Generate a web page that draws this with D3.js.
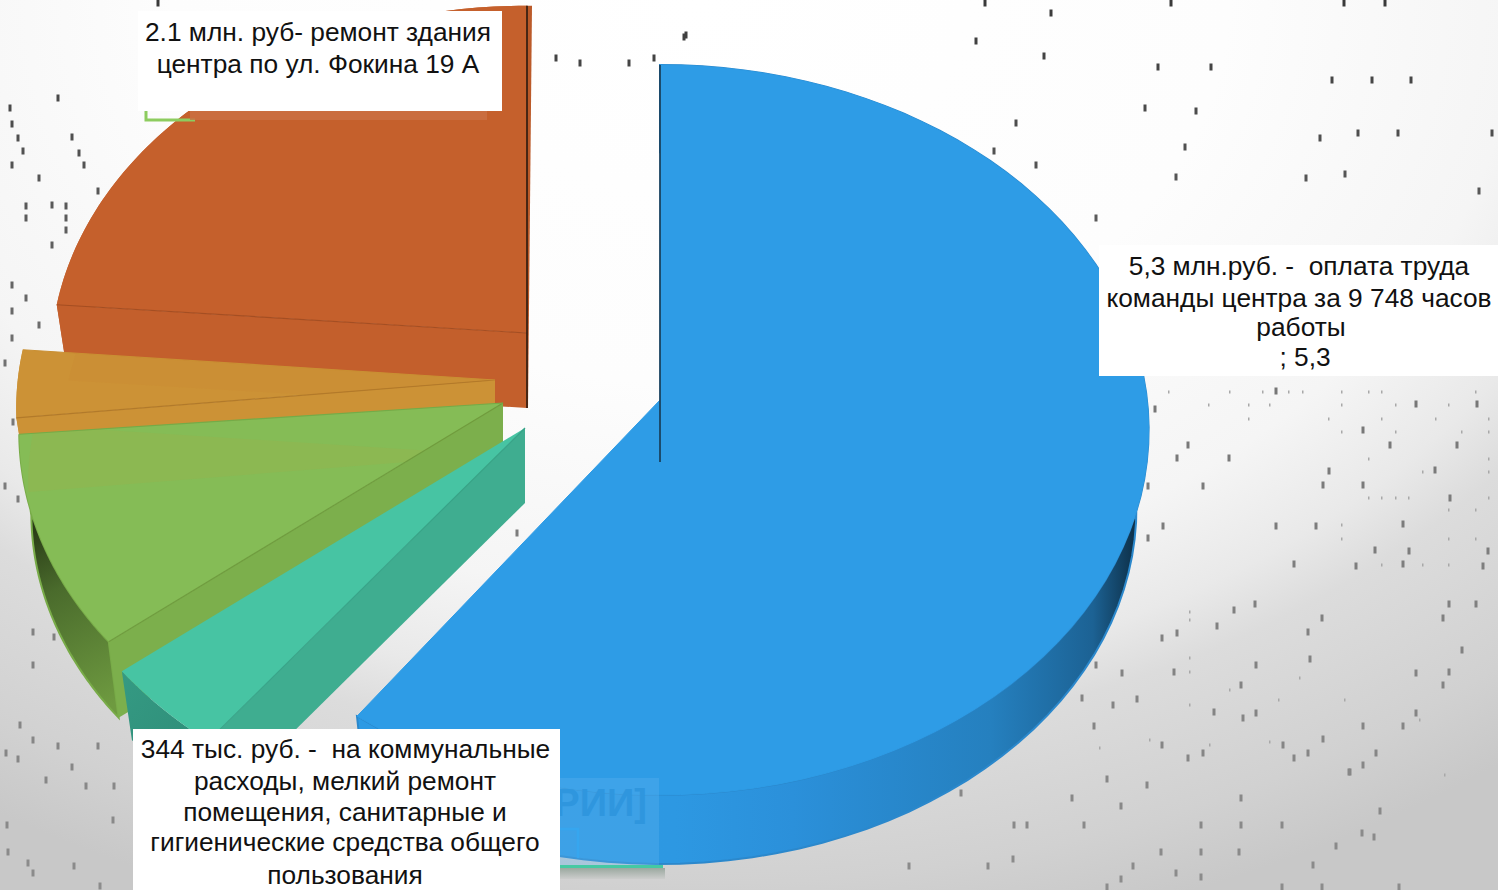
<!DOCTYPE html>
<html>
<head>
<meta charset="utf-8">
<style>
html, body { margin: 0; padding: 0; background: #fff; overflow: hidden; }
text { font-family: "Liberation Sans", Arial, sans-serif; white-space: pre; }
</style>
<script src="https://cdn.jsdelivr.net/npm/d3@7"></script>
</head>
<body>
<svg id="chart" width="1498" height="890"></svg>
<script>
// clockwise from 12 o'clock
const categories = ["Оплата труда", "Коммунальные расходы", "Прочее 1", "Прочее 2", "Ремонт здания"];
const values = [5.3, 0.344, 0.84, 0.27, 2.1];

const topColors = ["#2e9ce6", "#47c4a3", "#85bc56", "#cc9236", "#c5602c"];
const cutColors = ["#1d6ea8", "#3fad90", "#7caf4c", "#cc9236", "#c35f2c"];
const edgeColors = ["#1b6ca5", "#38a388", "#6f9c3e", "#b27a2a", "#a54e22"];
// apex of each pulled-out slice, its radius against the big one, small turn in degrees
const apexX = [660, 525, 503, 495, 527];
const apexY = [400, 428, 403, 380, 333];
const radii = [1, 1.01, 0.99, 0.98, 0.975];
const turns = [0, 1.5, 1.4, 0.3, 0];
const depths = [79, 75, 82, 75, 75];
// slices are painted back to front
const drawOrder = [4, 3, 2, 1, 0];

const labelBlocks = [
  { box: [138, 11, 364, 100], cx: [318, 318], lines: ["2.1 млн. руб- ремонт здания", "центра по ул. Фокина 19 А"], ys: [41, 73] },
  { box: [1099, 245, 399, 131], cx: [1299, 1299, 1301, 1305], lines: ["5,3 млн.руб. -  оплата труда", "команды центра за 9 748 часов", "работы", "; 5,3"], ys: [275, 307, 336, 366] },
  { box: [133, 729, 427, 161], cx: [345.5, 345, 345, 345, 345], lines: ["344 тыс. руб. -  на коммунальные", "расходы, мелкий ремонт", "помещения, санитарные и", "гигиенические средства общего", "пользования"], ys: [758, 790, 821, 851, 884] }
];

const specks = [
  [1276,391],[1416,404],[1477,404],[1155,409],[1188,445],[1363,430],[1390,445],[1457,445],[1177,458],[1229,458],
  [1329,471],[1435,470],[1323,485],[1363,485],[1148,486],[1203,486],[1450,498],[1403,524],[1163,526],[1276,526],
  [1316,526],[1148,538],[1375,550],[1409,551],[1488,551],[1294,564],[1403,564],[1483,566],[1356,566],[1255,604],
  [1449,604],[1476,604],[1322,618],[1443,618],[1234,610],[1308,632],[1177,633],[1162,638],[1217,626],[1462,650],
  [1310,659],[1256,665],[1122,673],[1174,672],[1096,665],[1416,673],[1449,672],[1241,685],[1443,685],[1082,698],
  [1113,705],[1137,699],[1214,712],[1256,713],[1416,713],[1243,718],[1094,726],[1363,726],[1403,726],[1162,745],
  [1283,745],[1323,739],[1308,753],[1376,753],[1203,753],[1188,758],[1294,758],[1363,765],[1349,772],
  [985,3],[1051,13],[1171,3],[1344,3],[1385,3],[976,41],[1044,56],[1158,67],[1211,67],[1332,80],[1372,80],[1411,80],
  [1145,108],[1196,111],[1016,123],[1358,133],[1398,133],[1492,133],[1185,147],[994,151],[1320,138],[1036,165],
  [1176,177],[1345,174],[1479,191],[1096,218],[686,35],[1306,178],
  [1107,779],[1147,785],[961,793],[1072,798],[1241,798],[1121,806],[1282,825],[1241,825],[1201,825],[1027,825],
  [1014,825],[1084,825],[1161,852],[1201,852],[1239,852],[1013,859],[909,866],[988,866],[1133,866],[1313,865],
  [1201,877],[1121,879],[1176,873],[1336,846],[1362,833],[1374,837],[1380,811],[1350,772],[1107,887],[1282,887],
  [1322,887],[1399,887],
  [10,108],[58,98],[72,137],[18,138],[39,178],[98,191],[26,206],[26,218],[66,218],[66,230],[66,206],[52,205],
  [52,245],[26,298],[12,124],[12,165],[23,151],[39,325],[12,338],[12,285],[12,311],[79,153],[84,165],
  [20,725],[18,759],[6,753],[58,746],[98,746],[33,740],[72,767],[46,780],[114,786],[86,786],[7,825],[8,852],
  [74,866],[33,873],[100,886],[113,820],[28,863],
  [5,363],[13,422],[5,486],[18,499],[33,632],[54,637],[33,665],[517,533],
  [556,58],[580,63],[629,63],[654,58],[684,37],[158,3]
];
// the much fainter grains
const grains = [
  [1169,392],[1230,392],[1263,392],[1289,392],[1303,392],[1342,392],[1369,392],[1382,392],[1476,392],[1209,405],
  [1249,405],[1270,405],[1342,405],[1396,405],[1449,405],[1249,419],[1329,419],[1382,419],[1436,419],[1489,419],
  [1342,432],[1396,432],[1462,432],[1489,432],[1489,459],[1369,459],[1489,472],[1423,472],[1382,498],[1369,498],
  [1396,498],[1409,498],[1489,498],[1342,525],[1449,510],[1476,510],[1342,539],[1449,539],[1476,539],[1382,565],
  [1423,565],[1449,565],[1190,612],[1190,620],[1190,658],[1190,672],[1300,678],[1150,740],[1210,745],[1270,742],
  [1100,748],[1445,775],[1420,720],[1345,700],[1279,700],[1190,705],[1230,690]
];

const svg = d3.select("#chart");
const defs = svg.append("defs");

function linearGradient(id, coords, stops) {
  const g = defs.append("linearGradient").attr("id", id).attr("gradientUnits", "userSpaceOnUse")
    .attr("x1", coords[0]).attr("y1", coords[1]).attr("x2", coords[2]).attr("y2", coords[3]);
  stops.forEach(s => g.append("stop").attr("offset", s[0]).attr("stop-color", s[1]));
}
const bgGrad = defs.append("radialGradient").attr("id", "bg").attr("gradientUnits", "userSpaceOnUse")
  .attr("cx", 0).attr("cy", 0).attr("r", 1.2).attr("gradientTransform", "translate(700,0) scale(1100,800)");
[[0, "#ffffff"], [0.4, "#fdfdfd"], [0.62, "#f5f5f5"], [0.72, "#e9e9e9"], [0.78, "#dcdcdc"], [0.92, "#d1d1d1"], [1, "#c8c8c8"]]
  .forEach(s => bgGrad.append("stop").attr("offset", s[0]).attr("stop-color", s[1]));
linearGradient("blueSide", [360, 0, 1148, 0], [[0, "#2d9ae4"], [0.4, "#2d98e2"], [0.55, "#2b90da"], [0.8, "#2580bf"], [0.93, "#1c6294"], [0.985, "#0d2f47"], [1, "#0c2a40"]]);
linearGradient("greenSide", [25, 510, 120, 700], [[0, "#1f2d10"], [0.4, "#4a6b2c"], [1, "#6e9a40"]]);
linearGradient("tealSide", [122, 670, 200, 740], [[0, "#359a83"], [1, "#2f8f7a"]]);
linearGradient("shadow", [0, 868, 0, 880], [[0, "#9aa89f"], [1, "#d0d0d0"]]);

svg.append("rect").attr("width", 1498).attr("height", 890).attr("fill", "url(#bg)");

const speckTone = d3.scaleLinear().domain([0, 400, 890]).range(["#3a3a3a", "#777777", "#8c8c8c"]);
svg.append("g").selectAll("rect").data(grains).join("rect")
  .attr("x", d => d[0] - 1).attr("y", d => d[1] - 1.5)
  .attr("width", 1.5).attr("height", 3)
  .attr("fill", "#a8a8a8");
svg.append("g").selectAll("rect").data(specks).join("rect")
  .attr("x", d => d[0] - 1.5).attr("y", d => d[1] - 3.5)
  .attr("width", 3).attr("height", 7)
  .attr("fill", d => speckTone(d[1]));

const pieData = d3.pie().sort(null).startAngle(0).endAngle(2 * Math.PI)(values);

// perspective view of the tilted disc
const rx = d3.scaleLinear().domain([0, 1]).range([0, 487]);
const ry = d3.scaleLinear().domain([0, 1]).range([0, 362.5]);
const persp = 0.082;
const shrink = 0.975;
const turnOf = i => turns[i] * Math.PI / 180;

function project(i, r, a, low) {
  const rr = r * radii[i];
  const w = 1 + persp * rr * Math.cos(a);
  const dx = rx(rr) * Math.sin(a) / w;
  const dy = -ry(rr) * Math.cos(a) / w;
  const b = low ? shrink : 1;
  return [apexX[i] + dx * b, apexY[i] + dy * b + (low ? depths[i] : 0)];
}
function arcPoints(i, a0, a1, low) {
  return d3.range(0, 81).map(k => project(i, 1, a0 + (a1 - a0) * k / 80, low));
}
const line = d3.line();
const closed = pts => line(pts) + "Z";
const topShape = i => {
  const s = pieData[i], t = turnOf(i);
  return closed([project(i, 0, 0, false)].concat(arcPoints(i, s.startAngle + t, s.endAngle + t, false)));
};
const lowShape = i => {
  const s = pieData[i], t = turnOf(i);
  return closed(arcPoints(i, s.startAngle + t, s.endAngle + t, false).concat(arcPoints(i, s.endAngle + t, s.startAngle + t, true)));
};

const sliceG = svg.append("g");
drawOrder.forEach(i => {
  const s = pieData[i];
  const g = sliceG.append("g").attr("class", "slice").datum(s);
  const a = s.startAngle + turnOf(i), b = s.endAngle + turnOf(i);
  const apexTop = project(i, 0, 0, false), apexLow = project(i, 0, 0, true);

  // rim of the slice
  const rimFill = i === 0 ? "url(#blueSide)" : i === 2 ? "url(#greenSide)" : i === 1 ? "url(#tealSide)" : cutColors[i];
  g.append("path")
    .attr("d", lowShape(i))
    .attr("fill", rimFill)
    .attr("stroke", i === 0 ? "#2b88cc" : i === 2 ? "#78ab48" : "none")
    .attr("stroke-width", 2);

  // the cut wall that faces the viewer
  if (i !== 0) {
    g.append("path")
      .attr("d", closed([apexTop, project(i, 1, a, false), project(i, 1, a, true), apexLow]))
      .attr("fill", cutColors[i]);
  }
  if (i === 4) {
    const far = project(i, 1, b, false);
    g.append("path")
      .attr("d", closed([apexTop, far, [far[0] + 5, far[1]], [apexLow[0] + 1, apexLow[1]], apexLow]))
      .attr("fill", "#bb5a29");
  }

  // top face
  g.append("path")
    .attr("d", topShape(i))
    .attr("fill", topColors[i])
    .attr("stroke", i === 0 ? "#2e9ce6" : "none");

  // the slice behind shows faintly through green and yellow
  if (i === 2 || i === 3) {
    defs.append("clipPath").attr("id", "clip" + i).append("path").attr("d", topShape(i));
    const behind = i + 1;
    const sb = pieData[behind];
    g.append("path")
      .attr("d", closed([project(behind, 0, 0, true)].concat(arcPoints(behind, sb.startAngle + turnOf(behind), sb.endAngle + turnOf(behind), true))))
      .attr("fill", i === 2 ? "#c8a03c" : "#c5602c")
      .attr("opacity", i === 2 ? 0.12 : 0.05)
      .attr("clip-path", "url(#clip" + i + ")");
  }

  // front edge of the top face
  if (i !== 0) {
    g.append("path")
      .attr("d", line([apexTop, project(i, 1, a, false)]))
      .attr("fill", "none").attr("stroke", edgeColors[i]).attr("stroke-width", 1.2);
  }
  if (i === 3 || i === 2) {
    g.append("path")
      .attr("d", line([apexTop, project(i, 1, b, false)]))
      .attr("fill", "none").attr("stroke", i === 2 ? "#74ab48" : "#c98f33").attr("stroke-width", 1.2);
  }
  if (i === 4) {
    g.append("path")
      .attr("d", line([project(i, 1, b, false), apexLow]))
      .attr("fill", "none").attr("stroke", "#2a1a10").attr("stroke-width", 1.6);
  }
  if (i === 0) {
    g.append("path")
      .attr("d", line([project(i, 1, 0, false), [apexTop[0], apexTop[1] + 62]]))
      .attr("fill", "none").attr("stroke", "#17384f").attr("stroke-width", 1.6);
  }
});

// leftovers of the original placeholder boxes under the labels
svg.append("path").attr("d", "M146,105V120H195").attr("fill", "none").attr("stroke", "#8dcc5f").attr("stroke-width", 3);
svg.append("rect").attr("x", 190).attr("y", 111).attr("width", 297).attr("height", 9).attr("fill", "#ca7145").attr("opacity", 0.8);

svg.append("rect").attr("x", 560).attr("y", 868).attr("width", 105).attr("height", 11).attr("fill", "url(#shadow)");
svg.append("rect").attr("x", 540).attr("y", 865).attr("width", 123).attr("height", 3).attr("fill", "#45c9a3");
svg.append("rect").attr("x", 560).attr("y", 778).attr("width", 99).attr("height", 87)
  .attr("fill", "#5cb2ee").attr("opacity", 0.35);
svg.append("text").attr("x", 647).attr("y", 816).attr("text-anchor", "end")
  .attr("font-size", 38).attr("font-weight", "bold").attr("fill", "#2f96de").text("ОРИИ]");
svg.append("path").attr("d", "M551,829H578V858").attr("fill", "none").attr("stroke", "#36a6ef").attr("stroke-width", 2.5);

// white label boxes with their text
labelBlocks.forEach(b => {
  svg.append("rect").attr("x", b.box[0]).attr("y", b.box[1]).attr("width", b.box[2]).attr("height", b.box[3]).attr("fill", "#fff");
  b.lines.forEach((t, j) => {
    svg.append("text").attr("x", b.cx[j]).attr("y", b.ys[j]).attr("text-anchor", "middle")
      .attr("font-size", 26.3).attr("fill", "#111").text(t);
  });
});
</script>
</body>
</html>
